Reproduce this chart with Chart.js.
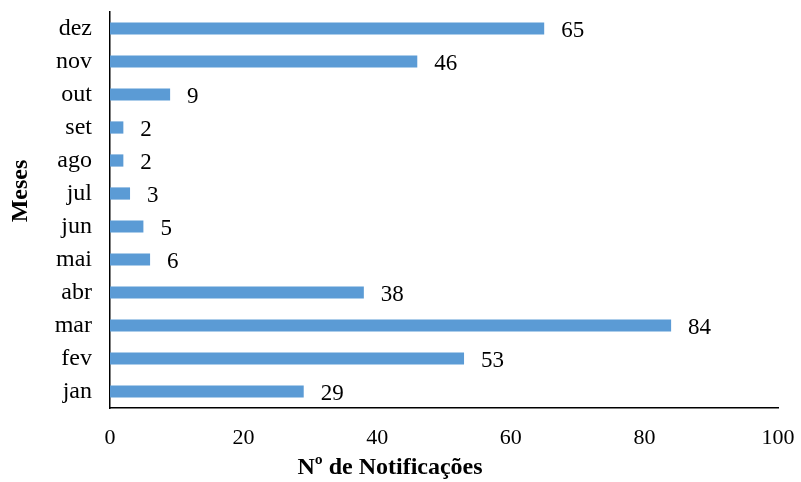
<!DOCTYPE html>
<html>
<head>
<meta charset="utf-8">
<script src="https://cdn.jsdelivr.net/npm/chart.js@4/dist/chart.umd.min.js"></script>
<style>
html,body{margin:0;padding:0;background:#fff;}
#wrap{width:801px;height:482px;}
</style>
</head>
<body>
<div id="wrap"><canvas id="c" width="801" height="482"></canvas></div>
<script>
const months = ['jan','fev','mar','abr','mai','jun','jul','ago','set','out','nov','dez'];
const notifications = [29, 53, 84, 38, 6, 5, 3, 2, 2, 9, 46, 65];
const xTicks = [0, 20, 40, 60, 80, 100];
const xTitle = 'Nº de Notificações';
const yTitle = 'Meses';

const serif = '"Liberation Serif", "Times New Roman", serif';

const labelPlugin = {
  id: 'valueLabels',
  afterDatasetsDraw(chart) {
    const ctx = chart.ctx;
    const meta = chart.getDatasetMeta(0);
    ctx.save();
    ctx.font = '23px ' + serif;
    ctx.fillStyle = '#000';
    ctx.textAlign = 'left';
    ctx.textBaseline = 'middle';
    meta.data.forEach((bar, i) => {
      ctx.fillText(String(notifications[i]), bar.x + 17, bar.y + 2);
    });
    ctx.restore();
  }
};

const titlePlugin = {
  id: 'axisTitles',
  afterDraw(chart) {
    const ctx = chart.ctx;
    ctx.save();
    ctx.font = 'bold 24px ' + serif;
    ctx.fillStyle = '#000';
    ctx.textAlign = 'center';
    ctx.textBaseline = 'middle';
    ctx.fillText(xTitle, 390, 468);
    ctx.translate(21, 191);
    ctx.rotate(-Math.PI / 2);
    ctx.fillText(yTitle, 0, 0);
    ctx.restore();
  }
};

new Chart(document.getElementById('c'), {
  type: 'bar',
  data: {
    labels: months,
    datasets: [{
      data: notifications,
      backgroundColor: '#5b9bd5',
      borderWidth: 0,
      barPercentage: 0.37,
      categoryPercentage: 1
    }]
  },
  options: {
    indexAxis: 'y',
    responsive: false,
    animation: false,
    devicePixelRatio: 1,
    layout: { padding: { top: 12, right: 23, left: 0, bottom: 0 } },
    plugins: { legend: { display: false }, tooltip: { enabled: false } },
    scales: {
      x: {
        min: 0, max: 100,
        afterBuildTicks: s => { s.ticks = xTicks.map(v => ({ value: v })); },
        afterFit: s => { s.height = 74; s.paddingLeft = 0; s.paddingRight = 0; },
        grid: { display: false, drawTicks: false },
        border: { display: true, color: '#000', width: 1.5 },
        ticks: { color: '#000', font: { family: serif, size: 22 }, padding: 17, maxRotation: 0 }
      },
      y: {
        reverse: true,
        afterFit: s => { s.width = 110; s.paddingTop = 0; s.paddingBottom = 0; },
        grid: { display: false, drawTicks: false },
        border: { display: true, color: '#000', width: 1.5 },
        ticks: { color: '#000', font: { family: serif, size: 24 }, padding: 18 }
      }
    }
  },
  plugins: [labelPlugin, titlePlugin]
});
</script>
</body>
</html>
